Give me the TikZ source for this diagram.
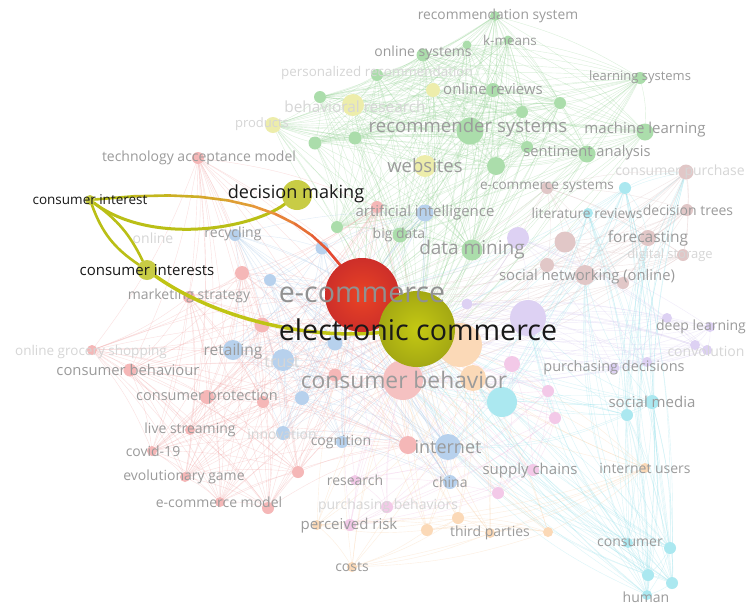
\documentclass[tikz,border=0pt]{standalone}
\usepackage{fontspec}
\setmainfont{Open Sans}
\definecolor{ink}{RGB}{25,25,25}
\definecolor{tagC}{RGB}{155,155,155}
\definecolor{paleC}{RGB}{214,214,214}
\definecolor{midC}{RGB}{145,145,145}
\definecolor{hiOlive}{RGB}{186,191,22}
\definecolor{hiOrg}{RGB}{232,150,60}
\definecolor{hiRed}{RGB}{228,52,46}
\definecolor{grnF}{RGB}{150,212,150}
\definecolor{yelF}{RGB}{232,232,150}
\definecolor{redF}{RGB}{242,165,165}
\definecolor{cbF}{RGB}{242,178,178}
\definecolor{bluF}{RGB}{165,198,232}
\definecolor{cyaF}{RGB}{150,226,236}
\definecolor{brnF}{RGB}{218,185,185}
\definecolor{purF}{RGB}{212,198,240}
\definecolor{pnkF}{RGB}{240,188,226}
\definecolor{orgF}{RGB}{250,208,165}
\pgfdeclarelayer{bg}
\pgfdeclarelayer{front}
\pgfsetlayers{bg,main,front}
\tikzset{
  dot/.style={circle,fill=#1!80!white,draw=none,inner sep=0pt},
  tag/.style={font=\fontsize{#1}{#1}\selectfont,text=tagC,inner sep=0pt},
  paletag/.style={tag=#1,text=paleC},
  hitag/.style={tag=#1,text=ink},
  link/.style={draw=#1,line width=.4pt,opacity=.35},
  hilink/.style={draw=hiOlive,line width=3pt,line cap=round},
}
% cluster member lists
\newcommand{\grnL}{rs,km,kmx,os,prn,orv,g1,g2,g3,rec,ls,ml,g4,g5,sa,g6,g7,g8,bd,dmn,yr,br,prd,web}
\newcommand{\redL}{tam,r1,r2,ms,r3,ogs,cbu,cpr,r4,r5,lst,cov,eg,ecmod,r6,r7,r8}
\newcommand{\bluL}{rcy,b1,b2,ret,tru,b3,b4,inn,cog,itn,chn,ai}
\newcommand{\cyaL}{cy1,lrv,cy2,smd,cy3,cns,cy4,cy5,cy6,hum}
\newcommand{\brnL}{ecs,cpu,dtr,fcs,dgs,bn1,bn2,snw,bn3}
\newcommand{\purL}{pu1,pu2,pu3,dpl,pu4,cnv,pu5,pdc,pu6}
\newcommand{\pnkL}{pk1,pk2,pk3,rsr,spc,pk4,pbh,prk}
\newcommand{\orgL}{or1,or2,itu,o3,o4,o5,tpt,o6,cst}
% every pair inside a cluster, plus links to the three hubs
\newcommand{\meshlinks}[2]{%
  \foreach \a [count=\i] in #1 {%
    \foreach \b [count=\j] in #1 {%
      \ifnum\i<\j \draw[link=#2] (\a) to[bend left=8] (\b);\fi
    }%
    \foreach \h in {ecm,elc,cbh} \draw[link=#2] (\a) to[bend left=8] (\h);
  }%
}

\begin{document}
\begin{tikzpicture}[x=1pt,y=-1pt]
\useasboundingbox (0,0) rectangle (749,606);
\begin{pgfonlayer}{bg}
  \fill[white] (0,0) rectangle (749,606);
\end{pgfonlayer}
% faded items
\foreach \n/\x/\y/\d/\c in {
  rs/495/16/10/grnF, km/508/40/9/grnF, kmx/467/45/9/grnF, os/423/55/13/grnF,
  prn/377/75/12/grnF, orv/493/90/14/grnF, g1/320/97/12/grnF, g2/315/143/13/grnF,
  g3/355/138/13/grnF, rec/470/131/27/grnF, ls/640/78/12/grnF, ml/645/132/17/grnF,
  g4/560/103/12/grnF, g5/522/112/12/grnF, sa/587/154/17/grnF, g6/496/166/18/grnF,
  g7/527/147/12/grnF, g8/337/227/12/grnF, bd/400/235/15/grnF, dmn/472/250/21/grnF,
  yr/433/90/14/yelF, br/353/105/22/yelF, prd/273/125/16/yelF, web/425/166/22/yelF,
  tam/198/158/12/redF, r1/377/207/12/redF, r2/242/273/14/redF, ms/189/297/12/redF,
  r3/262/325/15/redF, ogs/92/350/10/redF, cbu/130/370/13/redF, cpr/207/397/14/redF,
  r4/263/402/12/redF, r5/335/375/13/redF, lst/190/430/10/redF, cov/152/451/10/redF,
  eg/185/477/10/redF, ecmod/220/502/10/redF, r6/268/508/12/redF, r7/298/472/12/redF,
  r8/408/445/18/redF,
  rcy/235/235/12/bluF, b1/322/248/13/bluF, b2/270/280/12/bluF, ret/233/350/20/bluF,
  tru/283/360/22/bluF, b3/335/343/15/bluF, b4/302/398/14/bluF, inn/283/433/14/bluF,
  cog/342/442/12/bluF, itn/448/447/26/bluF, chn/450/482/14/bluF, ai/425/213/17/bluF,
  cy1/625/188/12/cyaF, lrv/588/213/10/cyaF, cy2/502/402/30/cyaF, smd/652/402/14/cyaF,
  cy3/627/415/12/cyaF, cns/628/543/10/cyaF, cy4/670/548/12/cyaF, cy5/648/575/12/cyaF,
  cy6/672/583/12/cyaF, hum/647/595/10/cyaF,
  ecs/547/188/12/brnF, cpu/686/172/15/brnF, dtr/687/210/12/brnF, fcs/648/238/16/brnF,
  dgs/683/255/12/brnF, bn1/565/242/21/brnF, bn2/547/265/14/brnF, snw/585/275/20/brnF,
  bn3/623/283/12/brnF,
  pu1/518/238/22/purF, pu2/467/304/11/purF, pu3/528/318/36/purF, dpl/710/327/10/purF,
  pu4/667/318/10/purF, cnv/707/350/10/purF, pu5/695/345/10/purF, pdc/614/368/11/purF,
  pu6/647/362/10/purF,
  pk1/512/364/16/pnkF, pk2/548/391/12/pnkF, pk3/555/418/12/pnkF, rsr/355/480/10/pnkF,
  spc/533/470/12/pnkF, pk4/498/493/12/pnkF, pbh/387/507/12/pnkF, prk/350/525/12/pnkF,
  or1/460/345/44/orgF, or2/473/378/26/orgF, itu/645/468/10/orgF, o3/458/518/12/orgF,
  o4/427/530/12/orgF, o5/317/525/10/orgF, tpt/490/533/10/orgF, o6/548/532/10/orgF,
  cst/352/567/10/orgF, cbh/403/380/40/cbF}
  \node[dot=\c,minimum size=\d pt] (\n) at (\x,\y) {};
% highlighted items
\begin{pgfonlayer}{front}
  \node[dot=hiOlive,minimum size=10pt] (ci) at (90,200) {};
  \node[dot=hiOlive,minimum size=20pt] (cis) at (147,270) {};
  \node[dot=hiOlive,minimum size=30pt] (dmk) at (297,195) {};
  \node[circle,inner sep=0pt,minimum size=74pt,shading=radial,
    inner color=hiRed!80!orange,outer color=hiRed!90!black] (ecm) at (362,295) {};
  \node[circle,inner sep=0pt,minimum size=76pt,shading=radial,
    inner color=hiOlive!85!yellow,outer color=hiOlive!88!black] (elc) at (417,329) {};
\end{pgfonlayer}
% faded links
\begin{pgfonlayer}{bg}
  \meshlinks{\grnL}{grnF}
  \meshlinks{\redL}{redF}
  \meshlinks{\bluL}{bluF}
  \meshlinks{\cyaL}{cyaF}
  \meshlinks{\brnL}{brnF}
  \meshlinks{\purL}{purF}
  \meshlinks{\pnkL}{pnkF}
  \meshlinks{\orgL}{orgF}
  \foreach \a in \cyaL
    \foreach \b in {cpu,fcs,snw,pu3,itn,or2}
      \draw[link=cyaF] (\a) to[bend left=12] (\b);
\end{pgfonlayer}
% faded labels
\foreach \n/\x/\y/\s/\t in {
  rs/498/16/13.8/recommendation system, km/510/40/13.5/k-means,
  os/423/53/14/online systems, orv/493/89/15/online reviews,
  rec/468/128/18.6/recommender systems, ls/640/77/13/learning systems,
  ml/645/130/15/machine learning, sa/587/153/14.7/sentiment analysis,
  web/425/166/18.5/websites, ecs/547/187/13.6/e-commerce systems,
  ai/425/213/15/artificial intelligence, bd/399/235/14/big data,
  dmn/472/250/19/data mining, lrv/587/213/13.8/literature reviews,
  dtr/688/210/14/decision trees, fcs/648/238/15.5/forecasting,
  snw/587/277/14.8/social networking (online),
  tam/199/158/14/technology acceptance model, rcy/233/234/14/recycling,
  ms/189/296/14/marketing strategy, cbu/128/370/14.8/consumer behaviour,
  ret/233/351/15.5/retailing, cpr/207/397/14.5/consumer protection,
  lst/190/430/14/live streaming, cov/153/451/14/covid-19,
  eg/184/477/14/evolutionary game, ecmod/219/502/14/e-commerce model,
  cog/341/442/14/cognition, itn/448/447/18/internet, rsr/355/480/14/research,
  chn/450/482/14/china, spc/530/471/15/supply chains,
  itu/645/468/14/internet users, smd/652/402/15/social media,
  pdc/614/368/14.5/purchasing decisions, prk/349/526/15/perceived risk,
  tpt/490/533/14/third parties, cst/352/567/14/costs, cns/630/543/14/consumer,
  hum/646/597/14/human, dpl/701/327/14/deep learning,
  cbh/404/380/22.8/consumer behavior}
  \node[tag=\s] (lb\n) at (\x,\y) {\t};
\foreach \n/\x/\y/\s/\t in {
  prn/377/73/13.4/personalized recommendation, br/355/107/15.4/behavioral research,
  prd/262/124/13/products, cpu/680/172/14/consumer purchase,
  dgs/670/255/13/digital storage, onl/153/238/14/online, tru/282/362/16/trust,
  inn/282/434/14/innovation, cnv/706/351/14/convolution,
  pbh/388/506/14/purchasing behaviors, ogs/91/352/13.5/online grocery shopping}
  \node[paletag=\s] (lb\n) at (\x,\y) {\t};
% highlighted links
\draw[hilink] (ci) .. controls (150,245) and (250,230) .. (dmk);
\draw[hilink,line width=2.6pt] (ci) to[bend right=18] (cis);
\draw[hilink,line width=2.6pt] (ci) to[bend left=14] (cis);
\draw[hilink,line width=3.5pt,draw=hiOlive!92!yellow] (cis) .. controls (210,315) and (300,340) .. (elc);
\path (ci) .. controls (230,185) and (300,210) .. (ecm)
  coordinate[pos=0] (p0) coordinate[pos=.1] (p1) coordinate[pos=.2] (p2)
  coordinate[pos=.3] (p3) coordinate[pos=.4] (p4) coordinate[pos=.5] (p5)
  coordinate[pos=.6] (p6) coordinate[pos=.7] (p7) coordinate[pos=.8] (p8)
  coordinate[pos=.9] (p9) coordinate[pos=1] (p10);
\foreach \k [evaluate=\k as \m using int(\k+1),
             evaluate=\k as \w using int(100-20*\k)] in {0,...,4}
  \draw[hilink,line width=2.6pt,draw=hiOlive!\w!hiOrg] (p\k) -- (p\m);
\foreach \k [evaluate=\k as \m using int(\k+1),
             evaluate=\k as \w using int(100-20*(\k-5))] in {5,...,9}
  \draw[hilink,line width=2.6pt,draw=hiOrg!\w!hiRed] (p\k) -- (p\m);
% highlighted labels
\begin{pgfonlayer}{front}
  \node[tag=28.6,text=midC] (lbecm) at (362,295) {e-commerce};
  \node[hitag=28.6] (lbelc) at (418,330) {electronic commerce};
  \node[hitag=18.1] (lbdmk) at (296,194) {decision making};
  \node[hitag=13.5] (lbci) at (90,200) {consumer interest};
  \node[hitag=15] (lbcis) at (147,270) {consumer interests};
\end{pgfonlayer}
\end{tikzpicture}
\end{document}
